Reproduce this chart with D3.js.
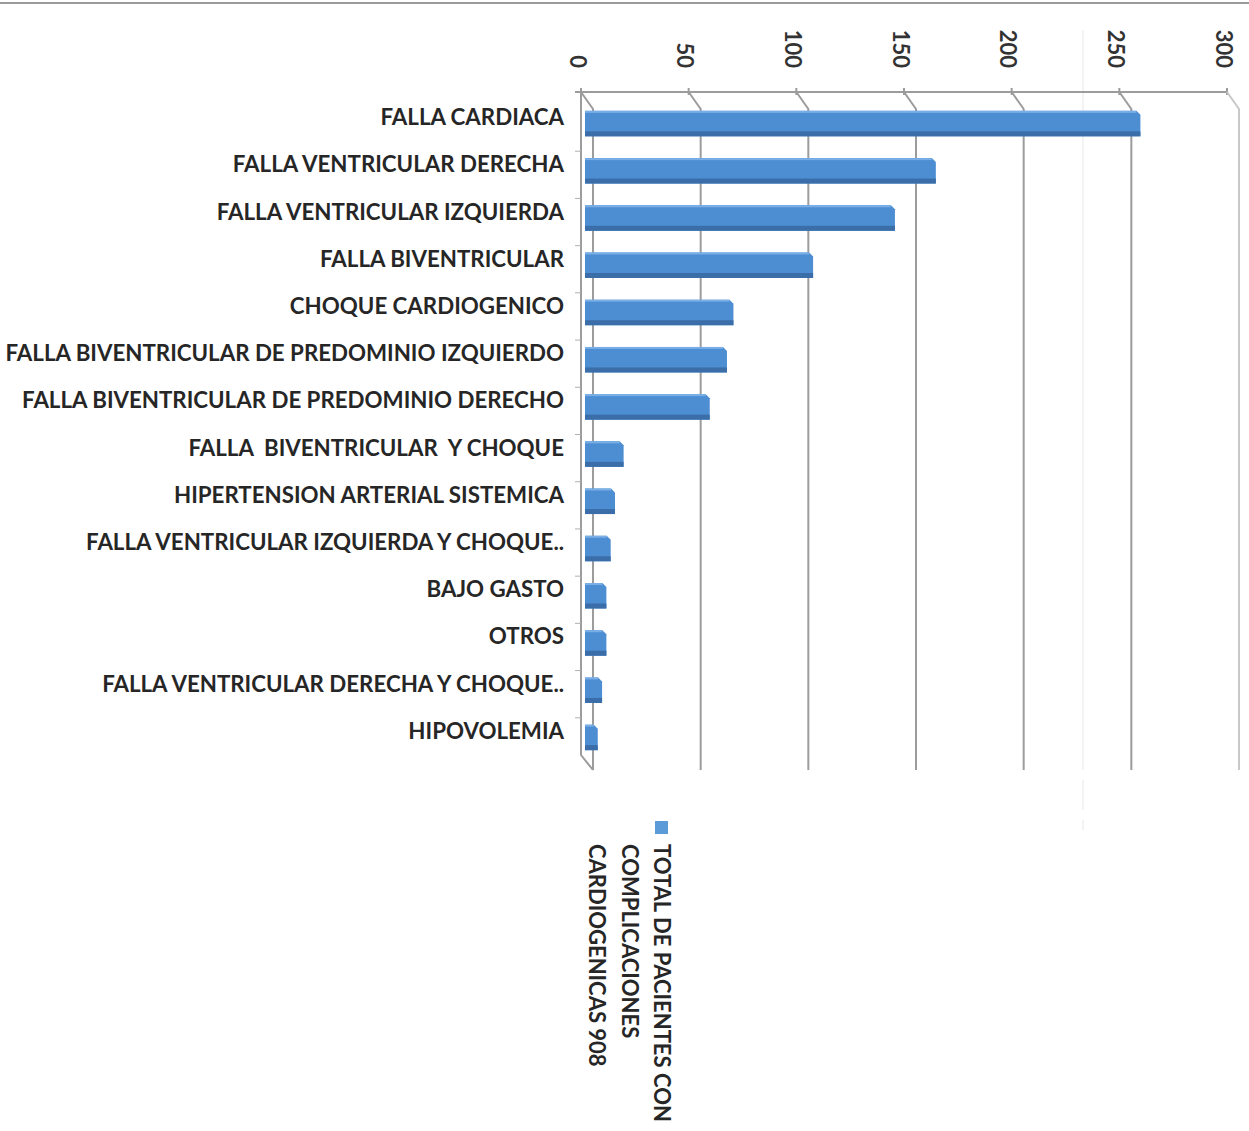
<!DOCTYPE html>
<html>
<head>
<meta charset="utf-8">
<script src="https://cdn.jsdelivr.net/npm/d3@7"></script>
<style>
  html, body { margin: 0; padding: 0; background: #fff; }
  svg { display: block; }
  text { font-family: Lato, "Open Sans", sans-serif; font-weight: 700; white-space: pre; }
</style>
</head>
<body>
<svg id="chart" width="1249" height="1131"></svg>
<script>
const categories = [
  "FALLA CARDIACA",
  "FALLA VENTRICULAR DERECHA",
  "FALLA VENTRICULAR IZQUIERDA",
  "FALLA BIVENTRICULAR",
  "CHOQUE CARDIOGENICO",
  "FALLA BIVENTRICULAR DE PREDOMINIO IZQUIERDO",
  "FALLA BIVENTRICULAR DE PREDOMINIO DERECHO",
  "FALLA  BIVENTRICULAR  Y CHOQUE",
  "HIPERTENSION ARTERIAL SISTEMICA",
  "FALLA VENTRICULAR IZQUIERDA Y CHOQUE..",
  "BAJO GASTO",
  "OTROS",
  "FALLA VENTRICULAR DERECHA Y CHOQUE..",
  "HIPOVOLEMIA"
];
const values = [257, 162, 143, 105, 68, 65, 57, 17, 13, 11, 9, 9, 7, 5];
const tickValues = [0, 50, 100, 150, 200, 250, 300];
const legendLines = ["TOTAL DE PACIENTES CON", "COMPLICACIONES", "CARDIOGENICAS 908"];

const svg = d3.select("#chart");
const DX = 12, DY = 17;          // 3D depth offset
const TOP = 92, BOTTOM = 770;

const x = d3.scaleLinear().domain([0, 300]).range([581, 1227]);
const y = d3.scaleBand().domain(categories).range([100, 761])
  .paddingInner(0.46).paddingOuter(0.23);

// top border
svg.append("line").attr("x1", 0).attr("x2", 1249).attr("y1", 3).attr("y2", 3)
  .attr("stroke", "#9a9a9a").attr("stroke-width", 2);

// faint scan artifact line
svg.append("line").attr("x1", 1083).attr("x2", 1083).attr("y1", 30).attr("y2", 830)
  .attr("stroke", "#f3f3f3").attr("stroke-width", 2).attr("stroke-dasharray", "740,10,30,10");

const grid = svg.append("g").attr("stroke", "#9c9c9c").attr("fill", "none").attr("stroke-width", 2);
// back top line
grid.append("line").attr("x1", x(0) - 6).attr("x2", x(300)).attr("y1", TOP).attr("y2", TOP);
// back left axis
grid.append("path").attr("d", `M${x(0)},${TOP} V${BOTTOM - 15} L${x(0) + DX},${BOTTOM}`);
// gridlines with 3D slant
tickValues.forEach(v => {
  grid.append("line").attr("x1", x(v)).attr("x2", x(v)).attr("y1", TOP - 4).attr("y2", TOP + 3);
  grid.append("path")
    .attr("d", `M${x(v)},${TOP} L${x(v) + DX},${TOP + DY} V${BOTTOM}`)
    .attr("stroke", v === 300 ? "#c8c8c8" : "#9c9c9c");
});

// category ticks on left axis
categories.forEach((c, i) => {
  const yy = y(c) - y.step() * y.paddingInner() / 2 + 4;
  if (i > 0) svg.append("line").attr("x1", x(0) - 6).attr("x2", x(0)).attr("y1", yy).attr("y2", yy)
    .attr("stroke", "#b0b0b0").attr("stroke-width", 1);
});

// tick labels (rotated)
svg.append("g").selectAll("text").data(tickValues).join("text")
  .attr("transform", d => `translate(${x(d) - 3},68) rotate(90)`)
  .attr("text-anchor", "end")
  .attr("dominant-baseline", "central")
  .attr("font-size", 22)
  .attr("fill", "#333")
  .text(d => d);

// bars
const bars = svg.append("g");
const x0 = x(0) + 4;
categories.forEach((c, i) => {
  const v = values[i];
  const xe = x(v) + 6;
  const y0 = y(c), h = y.bandwidth();
  const g = bars.append("g");
  const r = Math.min(4, (xe - x0) / 3);
  g.append("path")
    .attr("d", `M${x0},${y0} H${xe - r} L${xe},${y0 + r} V${y0 + h} H${x0} Z`)
    .attr("fill", "#4d8ed3");
  g.append("rect").attr("x", x0).attr("y", y0 + h - 5).attr("width", xe - x0).attr("height", 5)
    .attr("fill", "#3b6ea8");
  g.append("rect").attr("x", x0).attr("y", y0).attr("width", Math.max(0, xe - x0 - r)).attr("height", 2)
    .attr("fill", "#79aee6");
});

// category labels
const labels = svg.append("g").selectAll("text").data(categories).join("text")
  .attr("x", 564)
  .attr("y", d => y(d) + y.bandwidth() / 2 - 7)
  .attr("text-anchor", "end")
  .attr("dominant-baseline", "central")
  .attr("font-size", 22)
  .attr("fill", "#262626")
  .attr("xml:space", "preserve")
  .text(d => d);
// fit longest label to reference width
const longest = labels.filter(d => d === "FALLA BIVENTRICULAR DE PREDOMINIO IZQUIERDO").node();
const w = longest.getComputedTextLength();
const fs = 22 * 559 / w;
labels.attr("font-size", Math.min(24, fs));

// legend
svg.append("rect").attr("x", 655).attr("y", 821).attr("width", 13).attr("height", 13).attr("fill", "#5b9bd8");
const legendX = [662, 630, 597];
svg.append("g").selectAll("text").data(legendLines).join("text")
  .attr("transform", (d, i) => `translate(${legendX[i]},844) rotate(90)`)
  .attr("text-anchor", "start")
  .attr("dominant-baseline", "central")
  .attr("font-size", 22)
  .attr("fill", "#262626")
  .text(d => d);
</script>
</body>
</html>
